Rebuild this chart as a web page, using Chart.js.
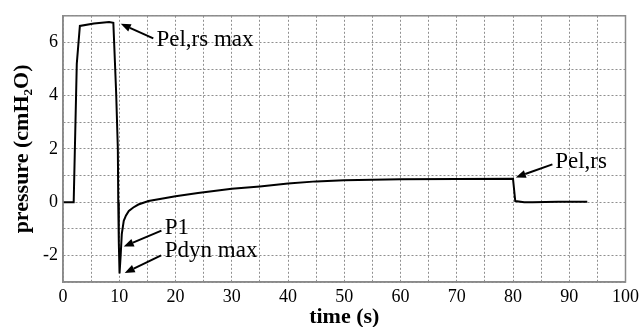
<!DOCTYPE html>
<html>
<head>
<meta charset="utf-8">
<script src="https://cdn.jsdelivr.net/npm/chart.js@4/dist/chart.umd.min.js"></script>
<style>
html,body{margin:0;padding:0;background:#fff;}
#wrap{width:643px;height:327px;position:relative;}
</style>
</head>
<body>
<div id="wrap"><canvas id="c" width="643" height="327"></canvas></div>
<script>
// ---- data (time in s, pressure in cmH2O) ----
const times = [0, 1.9, 2.45, 3.0, 5.5, 8.2, 8.95, 9.45, 9.75, 9.82, 9.92, 10.05, 10.25, 10.45, 10.8, 11.2, 11.7, 12.5, 13.4, 15.2, 18, 20, 24, 30, 35, 40, 45, 50, 55, 60, 70, 80, 80.4, 82, 83.5, 88, 93.2];
const pressures = [0, 0, 5.2, 6.62, 6.71, 6.77, 6.74, 4.1, 2.0, 0, -1.5, -2.68, -2.0, -1.2, -0.7, -0.5, -0.33, -0.2, -0.09, 0.04, 0.15, 0.22, 0.34, 0.5, 0.59, 0.7, 0.78, 0.82, 0.84, 0.86, 0.87, 0.88, 0.04, 0.0, 0.0, 0.01, 0.01];

// annotations: label, arrow tip (data units), arrow tail (data units), text anchor (data units)
const annLabels = ["Pel,rs max", "P1", "Pdyn max", "Pel,rs"];
const annTip = [[10.27, 6.70], [10.8, -1.67], [10.97, -2.66], [80.5, 0.93]];
const annTail = [[16.05, 6.15], [17.5, -1.07], [17.45, -2.0], [87.0, 1.42]];
const annText = [[16.6, 6.1], [18.1, -0.98], [18.1, -1.85], [87.5, 1.5]];

const xTickStep = 5, yTickStep = 1;

const SERIF = '"Liberation Serif", "Times New Roman", serif';

const points = times.map((t, i) => ({x: t, y: pressures[i]}));

const overlay = {
  id: 'overlay',
  afterDraw(chart) {
    const ctx = chart.ctx, a = chart.chartArea;
    const xs = chart.scales.x, ys = chart.scales.y;
    ctx.save();
    // frame
    ctx.setLineDash([]);
    ctx.strokeStyle = '#8a8a8a';
    ctx.lineWidth = 1.5;
    ctx.strokeRect(a.left, a.top, a.right - a.left, a.bottom - a.top);
    // annotations
    ctx.fillStyle = '#000';
    ctx.strokeStyle = '#000';
    ctx.font = '23px ' + SERIF;
    ctx.textBaseline = 'middle';
    ctx.textAlign = 'left';
    annLabels.forEach((lab, i) => {
      const tx = xs.getPixelForValue(annTip[i][0]), ty = ys.getPixelForValue(annTip[i][1]);
      const sx = xs.getPixelForValue(annTail[i][0]), sy = ys.getPixelForValue(annTail[i][1]);
      const ang = Math.atan2(ty - sy, tx - sx);
      const hl = 10, hw = 4;
      const bx = tx - hl * Math.cos(ang), by = ty - hl * Math.sin(ang);
      ctx.lineWidth = 2;
      ctx.beginPath();
      ctx.moveTo(sx, sy);
      ctx.lineTo(bx, by);
      ctx.stroke();
      ctx.beginPath();
      ctx.moveTo(tx, ty);
      ctx.lineTo(bx + hw * Math.sin(ang), by - hw * Math.cos(ang));
      ctx.lineTo(bx - hw * Math.sin(ang), by + hw * Math.cos(ang));
      ctx.closePath();
      ctx.fill();
      ctx.fillText(lab, xs.getPixelForValue(annText[i][0]), ys.getPixelForValue(annText[i][1]));
    });
    ctx.restore();
  }
};

new Chart(document.getElementById('c'), {
  type: 'line',
  data: {
    datasets: [{
      data: points,
      borderColor: '#000',
      borderWidth: 2,
      pointRadius: 0,
      tension: 0,
      fill: false
    }]
  },
  options: {
    responsive: false,
    animation: false,
    devicePixelRatio: 1,
    layout: {padding: {left: 0, right: 8, top: 13, bottom: 0}},
    plugins: {legend: {display: false}, tooltip: {enabled: false}},
    scales: {
      x: {
        type: 'linear',
        min: 0, max: 100,
        afterFit(s) { s.height = 45; },
        border: {display: true, color: '#8a8a8a', width: 1.5, dash: [2, 2]},
        grid: {color: '#8f8f8f', lineWidth: 1, tickLength: 0, drawTicks: false},
        ticks: {
          stepSize: xTickStep,
          autoSkip: false,
          maxRotation: 0,
          padding: 4,
          color: '#000',
          font: {family: SERIF, size: 18},
          callback: v => (v % 10 === 0 ? String(v) : '')
        },
        title: {
          display: true,
          text: 'time (s)',
          color: '#000',
          font: {family: SERIF, size: 22, weight: 'bold'},
          padding: {top: 0, bottom: -4}
        }
      },
      y: {
        min: -3, max: 7,
        afterFit(s) { s.width = 63; },
        border: {display: true, color: '#8a8a8a', width: 1.5, dash: [2, 2]},
        grid: {color: '#8f8f8f', lineWidth: 1, tickLength: 0, drawTicks: false},
        ticks: {
          stepSize: yTickStep,
          autoSkip: false,
          padding: 5,
          color: '#000',
          font: {family: SERIF, size: 18},
          callback: v => (v % 2 === 0 ? String(v) : '')
        },
        title: {
          display: true,
          text: 'pressure (cmH₂O)',
          color: '#000',
          font: {family: SERIF, size: 22, weight: 'bold'},
          padding: {top: 9, bottom: 0}
        }
      }
    }
  },
  plugins: [overlay]
});
</script>
</body>
</html>
